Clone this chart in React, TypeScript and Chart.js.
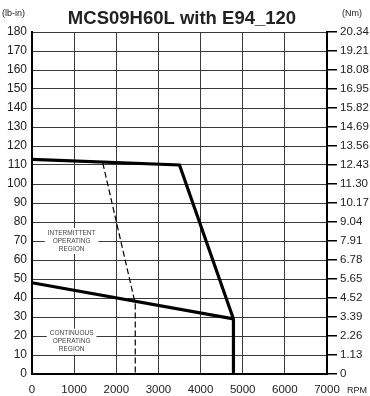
import React, { useEffect, useRef } from "react";
import { Chart, registerables } from "chart.js";

Chart.register(...registerables);

const TITLE = "MCS09H60L with E94_120";
const nmLabels = ["0", "1.13", "2.26", "3.39", "4.52", "5.65", "6.78", "7.91", "9.04", "10.17", "11.30", "12.43", "13.56", "14.69", "15.82", "16.95", "18.08", "19.21", "20.34"];

const intermittentRpm = [0, 3500, 4780, 4780];
const intermittentTorque = [113, 110, 29, 0];
const continuousRpm = [0, 4780];
const continuousTorque = [48, 29];
const limitRpm = [1680, 2450, 2450];
const limitTorque = [111, 37, 0];

const regionLabels = [
  { rpm: 940, torque: 70, lines: ["INTERMITTENT", "OPERATING", "REGION"] },
  { rpm: 940, torque: 17, lines: ["CONTINUOUS", "OPERATING", "REGION"] },
];

const pts = (xs: number[], ys: number[]) => xs.map((x, i) => ({ x, y: ys[i] }));

const FONT = "'Liberation Sans', Arial, sans-serif";

export default function App() {
  const ref = useRef<HTMLCanvasElement | null>(null);
  useEffect(() => {
    if (!ref.current) return;
    const overlay = {
      id: "overlay",
      afterDatasetsDraw(chart: any) {
        const ctx = chart.ctx;
        const xs = chart.scales.x;
        const ys = chart.scales.y;
        ctx.save();
        ctx.font = `6.5px ${FONT}`;
        ctx.textAlign = "center";
        ctx.textBaseline = "middle";
        for (const lab of regionLabels) {
          const cx = xs.getPixelForValue(lab.rpm);
          const cy = ys.getPixelForValue(lab.torque);
          const lh = 8;
          const w = Math.max(...lab.lines.map((l) => ctx.measureText(l).width)) + 6;
          const h = lab.lines.length * lh + 2;
          ctx.fillStyle = "#fff";
          ctx.fillRect(cx - w / 2, cy - h / 2, w, h);
          ctx.fillStyle = "#444";
          lab.lines.forEach((l, i) => {
            ctx.fillText(l, cx, cy + (i - (lab.lines.length - 1) / 2) * lh);
          });
        }
        ctx.restore();
      },
      afterDraw(chart: any) {
        const ctx = chart.ctx;
        ctx.save();
        ctx.fillStyle = "#222";
        ctx.textBaseline = "middle";
        ctx.font = `bold 18.5px ${FONT}`;
        ctx.textAlign = "center";
        ctx.fillText(TITLE, 182, 19);
        ctx.font = `9px ${FONT}`;
        ctx.textAlign = "left";
        ctx.fillText("(lb-in)", 2, 14);
        ctx.fillText("(Nm)", 342, 14);
        ctx.fillText("RPM", 347, 391);
        ctx.restore();
      },
    };
    const chart = new Chart(ref.current, {
      type: "scatter",
      data: {
        datasets: [
          {
            data: pts(intermittentRpm, intermittentTorque),
            showLine: true,
            borderColor: "#000",
            borderWidth: 3.2,
            pointRadius: 0,
            borderJoinStyle: "miter",
            clip: false,
          },
          {
            data: pts(continuousRpm, continuousTorque),
            showLine: true,
            borderColor: "#000",
            borderWidth: 3.2,
            pointRadius: 0,
            clip: false,
          },
          {
            data: pts(limitRpm, limitTorque),
            showLine: true,
            borderColor: "#000",
            borderWidth: 1.2,
            borderDash: [6, 3],
            pointRadius: 0,
            clip: false,
          },
        ],
      },
      options: {
        animation: false,
        responsive: false,
        layout: { padding: { top: 32, left: 0, right: 0, bottom: 0 } },
        plugins: { legend: { display: false }, tooltip: { enabled: false }, title: { display: false } },
        scales: {
          x: {
            type: "linear",
            min: 0,
            max: 7000,
            ticks: {
              stepSize: 1000,
              color: "#222",
              font: { family: FONT, size: 11.5 },
              padding: 9,
              maxRotation: 0,
              callback: (v: any) => String(v),
            },
            grid: { color: "#3a3a3a", lineWidth: 1, drawTicks: false },
            border: { color: "#000", width: 2 },
            afterFit: (s: any) => { s.height = 22; },
          },
          y: {
            type: "linear",
            position: "left",
            min: 0,
            max: 180,
            ticks: { stepSize: 10, color: "#222", font: { family: FONT, size: 12 }, padding: 5 },
            grid: { color: "#3a3a3a", lineWidth: 1, drawTicks: false },
            border: { color: "#000", width: 2 },
            afterFit: (s: any) => { s.width = 32; },
          },
          y2: {
            type: "linear",
            position: "right",
            min: 0,
            max: 180,
            ticks: {
              stepSize: 10,
              color: "#222",
              font: { family: FONT, size: 11.5 },
              padding: 3,
              callback: (_v: any, i: number) => nmLabels[i],
            },
            grid: { drawOnChartArea: false, color: "#000", lineWidth: 1.5, tickLength: 10 },
            border: { color: "#000", width: 2 },
            afterFit: (s: any) => { s.width = 43; },
          },
        },
      } as any,
      plugins: [overlay],
    });
    return () => chart.destroy();
  }, []);
  return (
    <div style={{ position: "absolute", left: 0, top: 0, width: 370, height: 396, background: "#fff" }}>
      <canvas ref={ref} width={370} height={396} style={{ width: 370, height: 396 }} />
    </div>
  );
}
